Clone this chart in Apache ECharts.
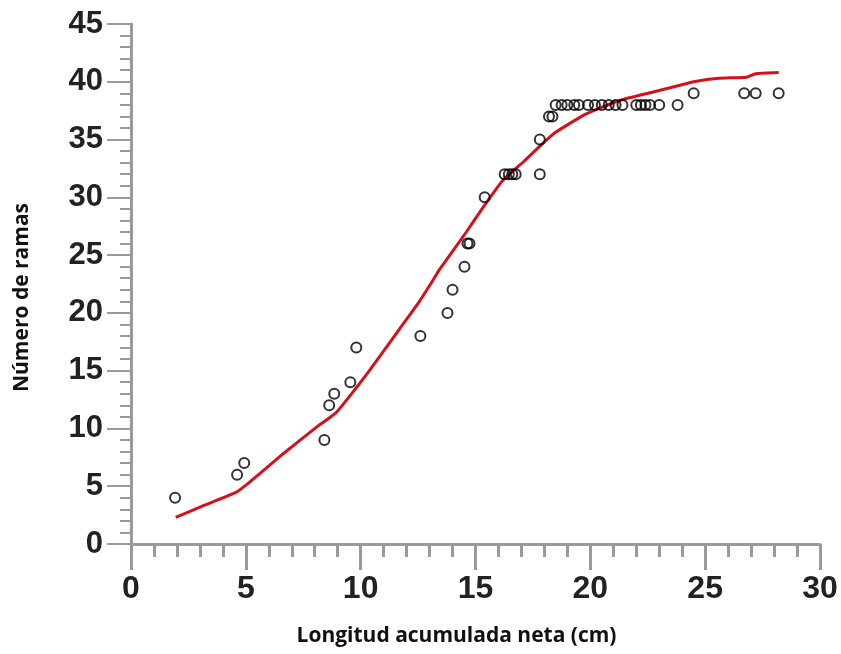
<!DOCTYPE html>
<html>
<head>
<meta charset="utf-8">
<script src="https://cdn.jsdelivr.net/npm/echarts@6/dist/echarts.min.js"></script>
<style>html,body{margin:0;padding:0;background:#fff;}#c{width:841px;height:654px;}</style>
</head>
<body>
<div id="c"></div>
<script>
const scatterX = [1.92, 4.62, 4.93, 8.42, 8.63, 8.85, 9.55, 9.81, 12.6, 13.78, 14.0, 14.52, 14.65, 14.74,
  15.4, 16.27, 16.45, 16.6, 16.75, 17.8, 17.8, 18.2, 18.35,
  18.49, 18.75, 19.0, 19.3, 19.5, 19.9, 20.2, 20.5, 20.8, 21.1, 21.4, 22.0, 22.2, 22.4, 22.6, 23.0, 23.8,
  24.5, 26.7, 27.2, 28.2];
const scatterY = [4, 6, 7, 9, 12, 13, 14, 17, 18, 20, 22, 24, 26, 26,
  30, 32, 32, 32, 32, 32, 35, 37, 37,
  38, 38, 38, 38, 38, 38, 38, 38, 38, 38, 38, 38, 38, 38, 38, 38, 38,
  39, 39, 39, 39];
const curveX = [1.95, 3.0, 4.57, 5.15, 6.6, 8.05, 8.93, 9.8, 10.38, 11.69, 12.56, 13.14, 13.43, 14.6, 15.39, 16.2, 17.1, 18.4, 19.8, 21.3, 22.7, 23.9, 24.5, 25.6, 26.8, 27.2, 28.2];
const curveY = [2.3, 3.2, 4.46, 5.33, 7.77, 10.07, 11.37, 13.5, 15.0, 18.6, 21.0, 22.8, 23.75, 27.0, 29.3, 31.5, 33.1, 35.5, 37.2, 38.4, 39.1, 39.7, 40.0, 40.3, 40.4, 40.7, 40.8];
const xTicks = {min: 0, max: 30, interval: 5};
const yTicks = {min: 0, max: 45, interval: 5};

const chart = echarts.init(document.getElementById('c'));
const axisGray = '#9a9a9a';
chart.setOption({
  animation: false,
  backgroundColor: '#ffffff',
  grid: {left: 131, right: 21, top: 24, bottom: 110},
  xAxis: {
    type: 'value', min: xTicks.min, max: xTicks.max, interval: xTicks.interval,
    name: 'Longitud acumulada neta (cm)', nameLocation: 'middle', nameGap: 82,
    nameTextStyle: {fontFamily: 'Open Sans', fontWeight: 'bold', fontSize: 21, color: '#111', padding: [0, 38, 0, 0]},
    axisLine: {show: true, lineStyle: {color: axisGray, width: 3}},
    axisTick: {show: true, length: 26, lineStyle: {color: axisGray, width: 3}},
    minorTick: {show: true, splitNumber: 5, length: 13, lineStyle: {color: axisGray, width: 3}},
    splitLine: {show: false},
    axisLabel: {margin: 29, fontFamily: 'Liberation Sans Narrow, Liberation Sans', fontWeight: 'bold', fontSize: 32, color: '#222'}
  },
  yAxis: {
    type: 'value', min: yTicks.min, max: yTicks.max, interval: yTicks.interval,
    name: 'Número de ramas', nameLocation: 'middle', nameGap: 98,
    nameTextStyle: {fontFamily: 'Open Sans', fontWeight: 'bold', fontSize: 21, color: '#111', padding: [0, 27, 0, 0]},
    axisLine: {show: true, lineStyle: {color: axisGray, width: 3}},
    axisTick: {show: true, length: 24, lineStyle: {color: axisGray, width: 2}},
    minorTick: {show: true, splitNumber: 5, length: 11, lineStyle: {color: axisGray, width: 2}},
    splitLine: {show: false},
    axisLabel: {margin: 28, fontFamily: 'Liberation Sans', fontWeight: 'bold', fontSize: 31, color: '#222'}
  },
  series: [
    {
      type: 'line',
      data: curveX.map((x, i) => [x, curveY[i]]),
      showSymbol: false, smooth: 0.15,
      lineStyle: {color: '#d4101a', width: 3},
      z: 2
    },
    {
      type: 'scatter',
      data: scatterX.map((x, i) => [x, scatterY[i]]),
      symbol: 'circle', symbolSize: 10,
      itemStyle: {color: 'rgba(255,255,255,0)', borderColor: '#000', borderWidth: 2},
      z: 3
    }
  ]
});
</script>
</body>
</html>
